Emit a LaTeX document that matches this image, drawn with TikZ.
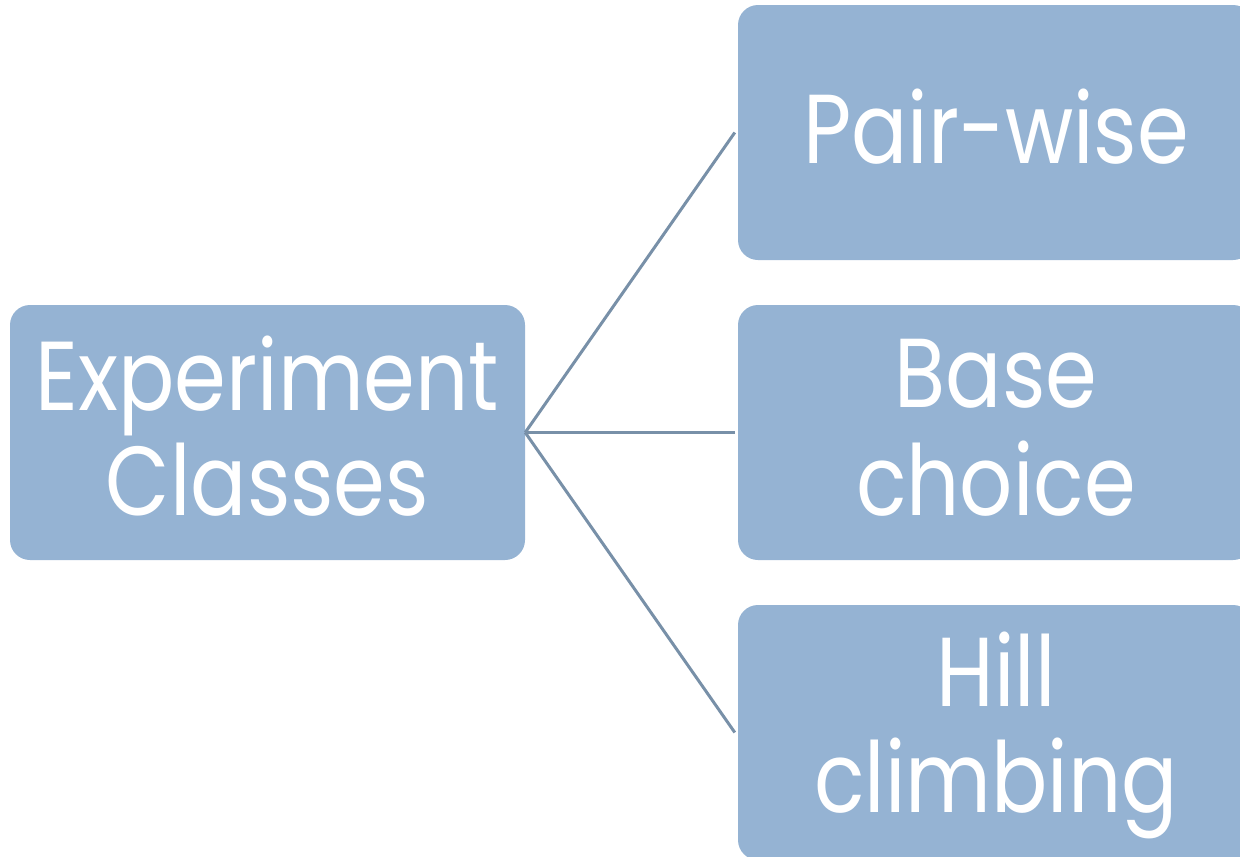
\documentclass[tikz,border=0pt]{standalone}
\usepackage{fontspec}
\setmainfont{Poppins}[FakeStretch=0.85]
\definecolor{boxfill}{HTML}{95B3D3}
\definecolor{linkc}{HTML}{7890A8}
\begin{document}
\begin{tikzpicture}[x=1pt,y=-1pt,
  box/.style={draw=none,fill=boxfill,rounded corners=20pt,minimum width=515pt,minimum height=255pt,inner sep=0pt},
  lbl/.style={text=white,font=\fontsize{98}{98}\selectfont,anchor=base,inner sep=0pt},
  link/.style={draw=linkc,line width=3pt}]
\useasboundingbox (0,0) rectangle (1240,857);
\clip (0,0) rectangle (1240,857);
\node[box] (ec) at (267.5,432.5) {};
\node[box] (pw) at (995.5,132.5) {};
\node[box] (bc) at (995.5,432.5) {};
\node[box] (hc) at (995.5,732.5) {};
\node[lbl] (t1) at (267.5,410) {Experiment};
\node[lbl] (t2) at (267.5,515) {Classes};
\node[lbl] (t3) at (996,163) {Pair-wise};
\node[lbl] (t4) at (996,407) {Base};
\node[lbl] (t5) at (996,515) {choice};
\node[lbl] (t6) at (996,706) {Hill};
\node[lbl] (t7) at (996,812) {climbing};
\draw[link] (ec.east) -- ([xshift=-3pt]pw.west);
\draw[link] (ec.east) -- ([xshift=-3pt]bc.west);
\draw[link] (ec.east) -- ([xshift=-3pt]hc.west);
\end{tikzpicture}
\end{document}
